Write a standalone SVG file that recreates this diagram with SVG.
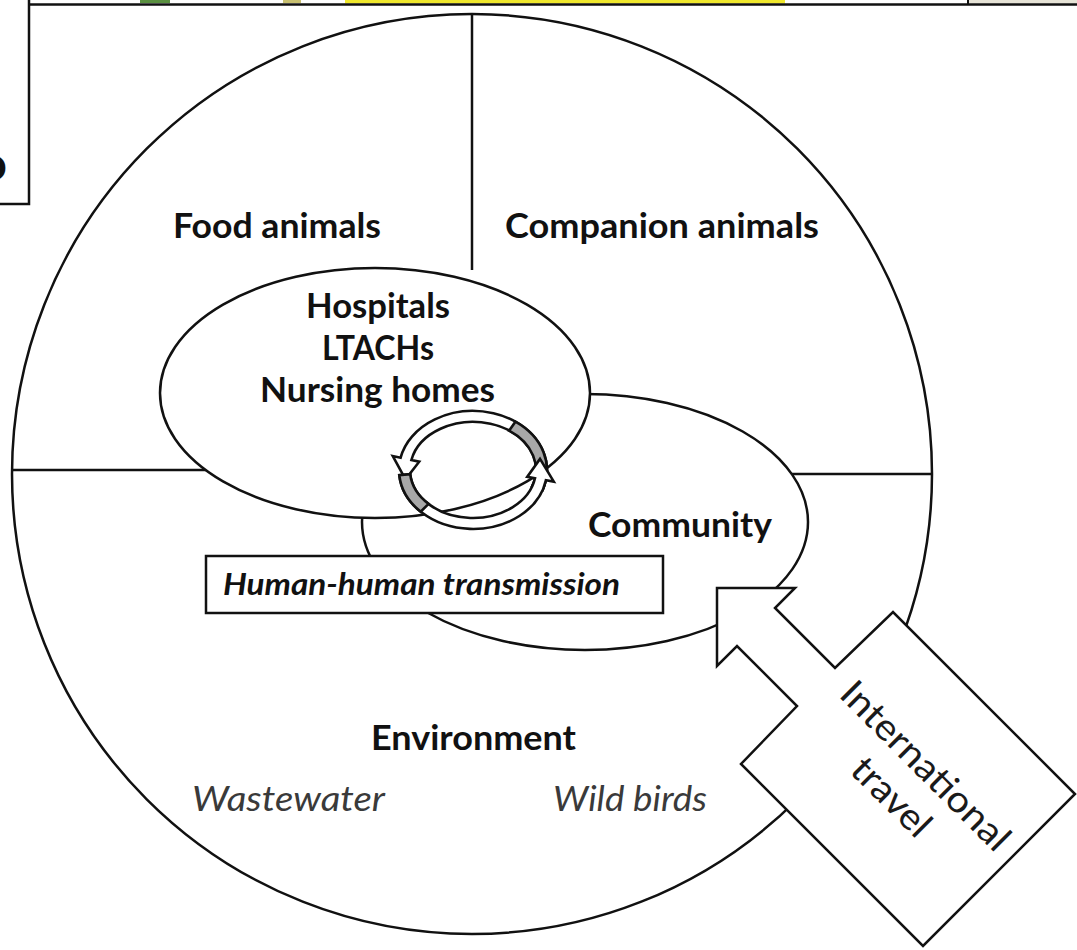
<svg xmlns="http://www.w3.org/2000/svg" width="1077" height="950" viewBox="0 0 1077 950">
<style>
.ln{fill:none;stroke:#111;stroke-width:2.5}
.sh{fill:#fff;stroke:#111;stroke-width:2.5}
.band{fill:#fff;stroke:#111;stroke-width:2.6;stroke-linejoin:miter}
.gray{fill:#a8a8a8;stroke:#111;stroke-width:2.6}
.lb{font-family:Lato,"Liberation Sans",sans-serif;font-weight:bold;font-size:34px;fill:#111}
.it{font-family:Lato,"Liberation Sans",sans-serif;font-style:italic;font-size:34px;fill:#3a3a3a}
.bi{font-family:Lato,"Liberation Sans",sans-serif;font-style:italic;font-weight:bold;font-size:30px;fill:#111}
.rg{font-family:Lato,"Liberation Sans",sans-serif;font-size:37px;fill:#1a1a1a}
</style>
<rect width="1077" height="950" fill="#fff"/>

<g id="top-frame">
  <rect x="345" y="0" width="440" height="3.5" fill="#f0e82c"/>
  <rect x="140" y="0" width="30" height="3" fill="#5a9040"/>
  <rect x="283" y="0" width="18" height="3" fill="#c8c070"/>
  <rect x="968" y="0" width="109" height="3.5" fill="#e6e3d6"/>
  <line x1="29" y1="4.5" x2="1077" y2="4.5" stroke="#111" stroke-width="2.5"/>
  <line x1="968" y1="0" x2="968" y2="4.5" stroke="#111" stroke-width="2"/>
  <polyline points="29,0 29,204 0,204" class="ln"/>
  <text x="-19" y="180" class="lb" style="font-size:45px">o</text>
</g>

<g id="outer-circle">
  <circle cx="472" cy="474" r="460" class="sh"/>
  <line x1="472" y1="14" x2="472" y2="270" class="ln"/>
  <line x1="12" y1="470" x2="212" y2="470" class="ln"/>
  <line x1="786" y1="474" x2="932" y2="474" class="ln"/>
</g>

<g id="food-animals">
  <text x="173" y="238" class="lb" textLength="208" lengthAdjust="spacingAndGlyphs">Food animals</text>
</g>
<g id="companion-animals">
  <text x="505" y="238" class="lb" textLength="314" lengthAdjust="spacingAndGlyphs">Companion animals</text>
</g>

<g id="community">
  <ellipse cx="585" cy="522" rx="223" ry="128" class="sh"/>
  <text x="588" y="537" class="lb" textLength="184" lengthAdjust="spacingAndGlyphs">Community</text>
</g>

<g id="hospitals">
  <ellipse cx="375" cy="393" rx="215" ry="125" class="sh"/>
  <text x="306" y="318" class="lb" textLength="144" lengthAdjust="spacingAndGlyphs">Hospitals</text>
  <text x="322" y="360" class="lb" textLength="112" lengthAdjust="spacingAndGlyphs">LTACHs</text>
  <text x="260" y="402" class="lb" textLength="235" lengthAdjust="spacingAndGlyphs">Nursing homes</text>
</g>

<g id="connectors">
  <path class="band" d="M542.5 490.2 A74 59 0 1 0 400.6 457.7 L392.8 456.1 L405.5 479.3 L419.2 461.7 L411.4 460 A63 48 0 1 1 532.2 486.4 Z"/>
  <path class="gray" d="M542.5 490.2 A74 59 0 0 0 515.4 421.7 L509.1 430.7 A63 48 0 0 1 532.2 486.4 Z"/>
  <path class="band" d="M399.3 475.1 A74 59 0 0 0 545.9 480.2 L553.8 481.6 L540 458.9 L527.2 476.9 L535 478.3 A63 48 0 0 1 410.2 474.2 Z"/>
  <path class="gray" d="M399.3 475.1 A74 59 0 0 0 420.7 511.7 L428.5 503.9 A63 48 0 0 1 410.2 474.2 Z"/>
</g>

<g id="human-human">
  <rect x="206" y="556" width="457" height="57" class="sh"/>
  <text x="223" y="595" class="bi" textLength="397" lengthAdjust="spacingAndGlyphs">Human-human transmission</text>
</g>

<g id="environment">
  <text x="371" y="750" class="lb" textLength="205" lengthAdjust="spacingAndGlyphs">Environment</text>
  <text x="192" y="811" class="it" textLength="193" lengthAdjust="spacingAndGlyphs">Wastewater</text>
  <text x="553" y="811" class="it" textLength="154" lengthAdjust="spacingAndGlyphs">Wild birds</text>
</g>

<g id="international-travel">
  <polygon class="sh" points="717,588 795,588 775,608 835,668 893,612 1075,794 923,946 741,764 797,706 737,646 717,666"/>
  <g transform="translate(908 779) rotate(45)">
    <text x="3" y="-9" class="rg" text-anchor="middle" textLength="223" lengthAdjust="spacingAndGlyphs">International</text>
    <text x="1" y="37" class="rg" text-anchor="middle" textLength="96" lengthAdjust="spacingAndGlyphs">travel</text>
  </g>
</g>
</svg>
